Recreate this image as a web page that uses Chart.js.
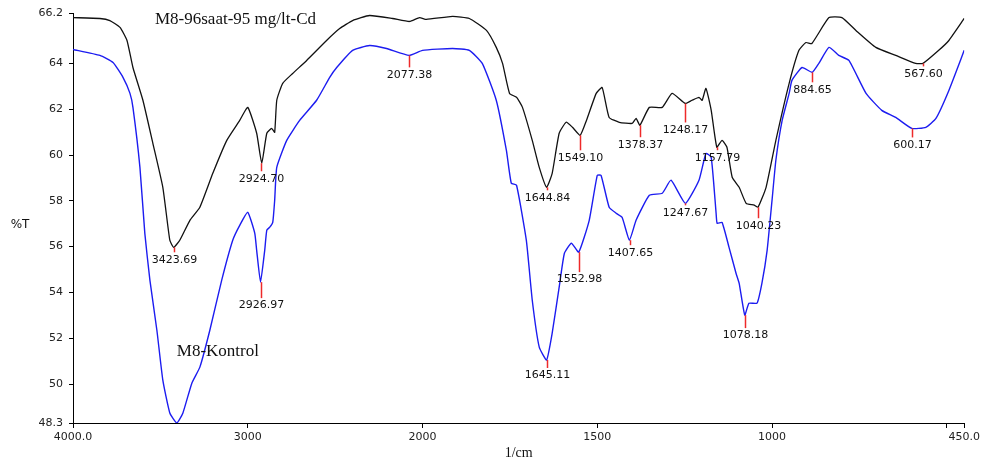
<!DOCTYPE html>
<html>
<head>
<meta charset="utf-8">
<script src="https://cdn.jsdelivr.net/npm/chart.js@4.4.1/dist/chart.umd.min.js"></script>
<style>
  body { margin: 0; background: #fff; }
  canvas { display: block; }
</style>
</head>
<body>
<canvas id="ftirChart" width="983" height="463"></canvas>
<script>
// M8-96saat-95 mg/lt-Cd (black)
const wnCd = [4000, 3846, 3789, 3731, 3691, 3657, 3600, 3543, 3486, 3446, 3424, 3389, 3331, 3274, 3200, 3120, 3046, 3000,
  2949, 2920, 2891, 2863, 2846, 2834, 2800, 2743, 2663, 2549, 2474, 2400, 2303, 2171, 2074, 2017, 1989, 1914, 1866,
  1817, 1789, 1771, 1751, 1731, 1714, 1686, 1666, 1645, 1629, 1609, 1589, 1571, 1549, 1531, 1503, 1486, 1466, 1437,
  1400, 1389, 1378, 1351, 1314, 1286, 1248, 1229, 1209, 1200, 1189, 1174, 1158, 1143, 1129, 1114, 1094, 1074, 1051,
  1040, 1017, 989, 951, 923, 903, 886, 837, 800, 760, 703, 646, 589, 568, 523, 494, 450];
const tCd = [66.0, 65.96, 65.87, 65.57, 65.0, 63.82, 62.39, 60.51, 58.59, 56.28, 55.97, 56.28, 57.15, 57.72, 59.2, 60.64, 61.51, 62.08,
  60.95, 59.64, 60.95, 61.16, 60.99, 62.39, 63.13, 63.56, 64.13, 65.0, 65.52, 65.87, 66.09, 65.96, 65.83, 66.0, 65.92, 66.05, 65.96,
  65.44, 64.7, 64.0, 62.69, 62.52, 62.08, 60.64, 59.46, 58.59, 59.2, 60.95, 61.43, 61.21, 60.86, 61.51, 62.69, 62.95, 61.64, 61.43,
  61.38, 61.6, 61.3, 62.08, 62.08, 62.69, 62.25, 62.39, 62.52, 62.39, 62.91, 61.95, 60.34, 60.64, 60.34, 59.03, 58.59, 57.89, 57.81,
  57.72, 58.59, 60.64, 63.13, 64.57, 64.91, 64.87, 66.0, 66.0, 65.44, 64.7, 64.35, 64.0, 64.0, 64.57, 65.0, 65.96];

// M8-Kontrol (blue)
const wnKontrol = [4000, 3846, 3771, 3714, 3674, 3657, 3617, 3589, 3560, 3520, 3486, 3446, 3406, 3371, 3320, 3274, 3217, 3149,
  3086, 3046, 3000, 2960, 2949, 2927, 2903, 2891, 2874, 2857, 2846, 2834, 2777, 2703, 2606, 2531, 2491, 2400, 2303, 2206,
  2077, 2000, 1914, 1866, 1829, 1789, 1760, 1746, 1731, 1703, 1686, 1666, 1645, 1629, 1609, 1594, 1574, 1553, 1523, 1500,
  1489, 1466, 1446, 1429, 1408, 1389, 1351, 1314, 1289, 1248, 1209, 1189, 1174, 1160, 1157, 1143, 1123, 1103, 1094, 1078,
  1066, 1043, 1029, 1014, 1000, 989, 971, 951, 943, 914, 885, 866, 837, 809, 780, 731, 686, 646, 600, 560, 531, 494, 450];
const tKontrol = [64.61, 64.35, 64.04, 63.39, 62.69, 62.08, 59.46, 56.58, 54.54, 52.35, 50.17, 48.74, 48.3, 48.74, 50.04, 50.74, 52.35, 54.54,
  56.28, 56.93, 57.5, 56.59, 55.84, 54.45, 55.84, 56.72, 56.85, 57.06, 58.02, 59.46, 60.64, 61.51, 62.39, 63.39, 63.82, 64.57, 64.78, 64.65,
  64.35, 64.57, 64.65, 64.57, 64.0, 62.39, 60.2, 58.77, 58.68, 56.28, 53.66, 51.61, 51.05, 52.22, 54.23, 55.71, 56.15, 55.76, 57.15, 59.11,
  59.11, 57.72, 57.46, 57.28, 56.28, 57.15, 58.24, 58.33, 58.9, 57.89, 58.9, 60.07, 59.9, 57.46, 57.02, 57.06, 55.97, 54.84, 54.4, 53.01,
  53.53, 53.53, 54.4, 55.84, 58.02, 59.77, 61.51, 62.69, 63.26, 63.82, 63.61, 64.0, 64.7, 64.35, 64.13, 62.69, 61.95, 61.64, 61.16, 61.21, 61.6, 62.82, 64.57];

// peak picks
const peakWnCd = [3423.69, 2924.70, 1644.84, 1549.10, 1378.37, 1248.17, 1157.79, 1040.23, 567.60];
const peakTCd = [55.97, 59.64, 58.59, 60.86, 61.3, 62.25, 60.34, 57.72, 64.0];
const peakWnKontrol = [2926.97, 2077.38, 1645.11, 1552.98, 1407.65, 1247.67, 1078.18, 884.65, 600.17];
const peakTKontrol = [54.45, 64.35, 51.05, 55.76, 56.28, 57.89, 53.01, 63.61, 61.16];

// axis ticks (wavenumber) and %T ticks
const xTickValues = [4000, 3000, 2000, 1500, 1000, 500, 450];
const xTickLabels = ["4000.0", "3000", "2000", "1500", "1000", "", "450.0"];
const yTickValues = [48.3, 50, 52, 54, 56, 58, 60, 62, 64, 66.2];

// red pick-line lengths in px
const cdLineLen = [5, 8, 3, 15, 12, 19, 3, 11, 3];
const kontrolLineLen = [16, 12, 8, 20, 5, 2, 13, 10, 9];

// spectrometer axis: half scale above 2000 1/cm
const toPos = (w) => (w > 2000 ? 2000 + (w - 2000) / 2 : w);

const toPoints = (wn, t) => wn.map((w, i) => ({ x: toPos(w), y: t[i] }));

const serif = "'Liberation Serif', 'Times New Roman', serif";
const sans = "'DejaVu Sans', Verdana, sans-serif";

const peakPlugin = {
  id: "peaks",
  afterDatasetsDraw(chart) {
    const ctx = chart.ctx;
    const xs = chart.scales.x;
    const ys = chart.scales.y;
    ctx.save();
    const drawPeaks = (wn, t, lens) => {
      wn.forEach((w, i) => {
        const px = Math.round(xs.getPixelForValue(toPos(w))) + 0.5;
        const py = ys.getPixelForValue(t[i]);
        ctx.strokeStyle = "#ee2a2a";
        ctx.lineWidth = 1.5;
        ctx.beginPath();
        ctx.moveTo(px, py);
        ctx.lineTo(px, py + lens[i]);
        ctx.stroke();
        ctx.fillStyle = "#111";
        ctx.font = "11px " + sans;
        ctx.textAlign = "center";
        ctx.textBaseline = "top";
        ctx.fillText(w.toFixed(2), px, py + lens[i] + 2);
      });
    };
    drawPeaks(peakWnCd, peakTCd, cdLineLen);
    drawPeaks(peakWnKontrol, peakTKontrol, kontrolLineLen);

    // series names
    ctx.fillStyle = "#111";
    ctx.font = "17px " + serif;
    ctx.textAlign = "left";
    ctx.textBaseline = "middle";
    ctx.fillText("M8-96saat-95 mg/lt-Cd", xs.getPixelForValue(toPos(3531)), ys.getPixelForValue(65.9));
    ctx.fillText("M8-Kontrol", xs.getPixelForValue(toPos(3406)), ys.getPixelForValue(51.44));

    // axis titles
    ctx.font = "12px " + sans;
    ctx.textAlign = "center";
    ctx.fillText("%T", 20, 225);
    ctx.font = "14px " + serif;
    ctx.fillText("1/cm", (chart.chartArea.left + chart.chartArea.right) / 2, 453);
    ctx.restore();
  },
};

document.addEventListener("DOMContentLoaded", () => {
  const ctx = document.getElementById("ftirChart").getContext("2d");
  new Chart(ctx, {
    type: "line",
    data: {
      datasets: [
        {
          label: "M8-96saat-95 mg/lt-Cd",
          data: toPoints(wnCd, tCd),
          borderColor: "#111111",
          borderWidth: 1.3,
          pointRadius: 0,
          tension: 0.15,
        },
        {
          label: "M8-Kontrol",
          data: toPoints(wnKontrol, tKontrol),
          borderColor: "#1c1cf0",
          borderWidth: 1.4,
          pointRadius: 0,
          tension: 0.15,
        },
      ],
    },
    options: {
      responsive: false,
      animation: false,
      layout: { padding: { top: 13, right: 17, left: 0, bottom: 0 } },
      plugins: { legend: { display: false }, tooltip: { enabled: false } },
      scales: {
        x: {
          type: "linear",
          reverse: true,
          min: toPos(450),
          max: toPos(4000),
          afterBuildTicks: (s) => {
            s.ticks = xTickValues.map((w) => ({ value: toPos(w) }));
          },
          afterFit: (s) => {
            s.height = 40;
          },
          grid: { display: true, drawOnChartArea: false, drawTicks: true, tickLength: 5, color: "#000" },
          border: { display: true, color: "#000", width: 1 },
          ticks: {
            autoSkip: false,
            maxRotation: 0,
            padding: 3,
            color: "#222",
            font: { family: sans, size: 11 },
            callback: (v, i) => xTickLabels[i],
          },
        },
        y: {
          type: "linear",
          min: 48.3,
          max: 66.2,
          afterBuildTicks: (s) => {
            s.ticks = yTickValues.map((v) => ({ value: v }));
          },
          afterFit: (s) => {
            s.width = 73;
          },
          grid: { display: true, drawOnChartArea: false, drawTicks: true, tickLength: 4, color: "#000" },
          border: { display: true, color: "#000", width: 1 },
          ticks: {
            padding: 6,
            color: "#222",
            font: { family: sans, size: 11 },
            callback: (v) => String(v),
          },
        },
      },
    },
    plugins: [peakPlugin],
  });
});
</script>
</body>
</html>
